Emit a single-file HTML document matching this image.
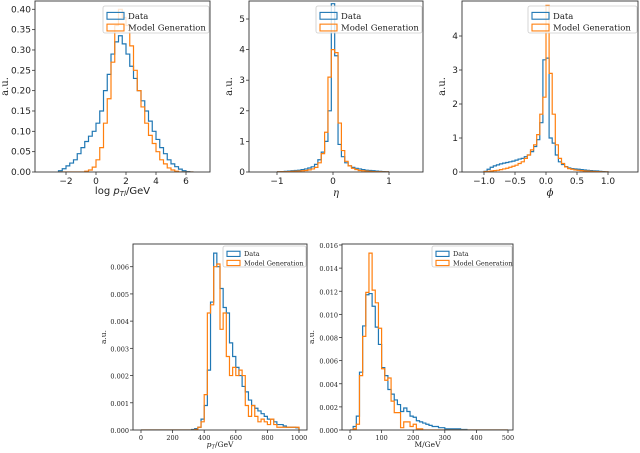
<!DOCTYPE html>
<html><head><meta charset="utf-8"><style>
html,body{margin:0;padding:0;background:#fff;}
svg{display:block;}
.tk{font-family:"DejaVu Sans",sans-serif;font-size:9px;fill:#222;}
.tk2{font-family:"DejaVu Serif","Liberation Serif",serif;font-size:6.5px;fill:#222;}
.lb{font-family:"DejaVu Serif","Liberation Serif",serif;font-size:10px;fill:#222;}
.lb2{font-family:"DejaVu Serif","Liberation Serif",serif;font-size:7.5px;fill:#222;}
</style></head><body>
<svg id="fig" width="640" height="453" viewBox="0 0 640 453" xmlns="http://www.w3.org/2000/svg"></svg>
<script>
// ---- data ----
const ptlStart=-2.5, ptlWidth=0.25;
const ptlData=[0.003,0.008,0.015,0.022,0.03,0.045,0.06,0.075,0.088,0.1,0.12,0.15,0.2,0.24,0.29,0.32,0.335,0.315,0.29,0.26,0.23,0.2,0.175,0.15,0.125,0.1,0.08,0.06,0.045,0.03,0.02,0.013,0.007,0.003,0.001,0];
const ptlModel=[0,0,0,0,0,0,0,0.002,0.005,0.012,0.03,0.06,0.12,0.18,0.27,0.36,0.4,0.38,0.36,0.31,0.25,0.2,0.16,0.12,0.09,0.07,0.05,0.03,0.02,0.01,0.005,0.002,0,0,0,0];
const etaStart=-0.99, etaWidth=0.06;
const etaData=[0.01,0.015,0.02,0.03,0.04,0.05,0.06,0.08,0.1,0.13,0.17,0.25,0.4,0.65,1.0,2.0,5.5,3.8,0.9,0.5,0.3,0.2,0.15,0.12,0.1,0.08,0.06,0.05,0.04,0.03,0.02,0.015,0.01];
const etaModel=[0.005,0.008,0.01,0.015,0.02,0.025,0.03,0.04,0.05,0.07,0.1,0.15,0.3,0.6,1.3,3.1,4.0,3.9,1.6,0.7,0.35,0.2,0.12,0.08,0.05,0.04,0.03,0.02,0.015,0.01,0.008,0.005,0.003];
const phiStart=-1.0, phiWidth=0.05;
const phiData=[0.02,0.08,0.14,0.18,0.21,0.24,0.26,0.28,0.3,0.32,0.35,0.38,0.4,0.45,0.5,0.6,0.75,0.95,1.45,3.3,3.35,1.0,0.85,0.5,0.3,0.22,0.16,0.12,0.1,0.09,0.08,0.07,0.06,0.05,0.04,0.035,0.03,0.02,0.01,0.005];
const phiModel=[0.01,0.02,0.03,0.04,0.05,0.07,0.09,0.11,0.14,0.17,0.2,0.25,0.3,0.4,0.5,0.65,0.8,1.1,1.7,2.2,4.9,2.9,1.7,0.8,0.4,0.25,0.15,0.1,0.08,0.06,0.05,0.04,0.03,0.025,0.02,0.015,0.01,0.008,0.005,0.003];
const ptStart=0, ptWidth=20;
const ptData=[0,0,0,0,0,0,0,0,0,0,0,0,0,0,0,0,0.00002,0.00005,0.0001,0.0004,0.0009,0.0022,0.0047,0.0065,0.0060,0.0052,0.0045,0.0043,0.0032,0.0027,0.0023,0.0020,0.0016,0.0014,0.0011,0.0009,0.0008,0.0007,0.0006,0.0005,0.0004,0.0004,0.0003,0.0002,0.0002,0.00015,0.0001,0.0001,0.0001,0.00008];
const ptModel=[0,0,0,0,0,0,0,0,0,0,0,0,0,0,0,0,0,0.00002,0.0001,0.0003,0.0013,0.0043,0.0046,0.0060,0.0061,0.0037,0.0043,0.0027,0.0020,0.0023,0.0020,0.0022,0.0020,0.0009,0.0005,0.0009,0.0005,0.0003,0.0004,0.0003,0.0002,0.0004,0.0002,0.0001,0.0001,0.0001,0.0001,0.0001,0.0001,0.0001];
const mStart=0, mWidth=10;
const mData=[0,0.0003,0.0012,0.005,0.009,0.0117,0.0118,0.0107,0.0089,0.0074,0.0054,0.0047,0.0035,0.0031,0.0026,0.0022,0.0016,0.0019,0.0016,0.0012,0.0011,0.0008,0.0007,0.0006,0.0005,0.0004,0.0003,0.0003,0.0002,0.0002,0.0001,0.0001,0.0001,0.0001,0.0001,0.00005,0.00005,0,0,0,0,0,0,0,0,0,0,0,0,0];
const mModel=[0,0.0001,0.0005,0.0047,0.0081,0.0119,0.0153,0.0121,0.011,0.0088,0.0053,0.0043,0.0045,0.0025,0.0015,0.0015,0.0002,0.0007,0.0007,0.0003,0.0005,0.0001,0.0001,0,0,0,0,0,0,0,0,0,0,0,0,0,0,0,0,0,0,0,0,0,0,0,0,0,0,0];
const ptlXTicks=[-2,0,2,4,6], ptlYTicks=[0,0.05,0.1,0.15,0.2,0.25,0.3,0.35,0.4];
const etaXTicks=[-1,0,1], etaYTicks=[0,1,2,3,4,5];
const phiXTicks=[-1,-0.5,0,0.5,1], phiYTicks=[0,1,2,3,4];
const ptXTicks=[0,200,400,600,800,1000], ptYTicks=[0,0.001,0.002,0.003,0.004,0.005,0.006];
const mXTicks=[0,100,200,300,400,500], mYTicks=[0,0.002,0.004,0.006,0.008,0.01,0.012,0.014,0.016];

const NS='http://www.w3.org/2000/svg';
const svg=document.getElementById('fig');
function mk(tag,attrs,parent){const e=document.createElementNS(NS,tag);for(const k in attrs)e.setAttribute(k,attrs[k]);(parent||svg).appendChild(e);return e;}

function panel(p){
  const g=mk('g',{});
  
  
  const sx=v=>p.x0px+(v-p.x0)*(p.x1px-p.x0px)/(p.x1-p.x0);
  const sy=v=>p.bot+(v)*(p.y1px-p.bot)/p.y1;
  const clipId='c'+p.name;
  const cp=mk('clipPath',{id:clipId},g);
  mk('rect',{x:p.L,y:p.T,width:p.R-p.L,height:p.bot-p.T},cp);
  function series(vals,start,w,color,nm){
    let d='M'+sx(start)+','+sy(0);
    vals.forEach((v,i)=>{d+=' L'+sx(start+i*w)+','+sy(v)+' L'+sx(start+(i+1)*w)+','+sy(v);});
    d+=' L'+sx(start+vals.length*w)+','+sy(0);
    const pth=mk('path',{d:d,fill:'none',stroke:color,'stroke-width':1.2,'clip-path':'url(#'+clipId+')'},g);
    
    
  }
  series(p.data,p.start,p.w,'#1f77b4','data-histogram');
  series(p.model,p.start,p.w,'#ff7f0e','model-histogram');
  const fr=mk('rect',{x:p.L,y:p.T,width:p.R-p.L,height:p.bot-p.T,fill:'none',stroke:'#333','stroke-width':0.9},g);
  
  
  const cls=p.small?'tk2':'tk';
  p.xt.forEach(v=>{
    const x=sx(v);
    mk('line',{x1:x,x2:x,y1:p.bot,y2:p.bot+3,stroke:'#333','stroke-width':0.8},g);
    const t=mk('text',{x:x,y:p.bot+(p.small?10:12),'text-anchor':'middle',class:cls},g);
    t.textContent=(v<0?'\u2212':'')+p.xf(Math.abs(v));
    
    
  });
  p.yt.forEach(v=>{
    const y=sy(v);
    mk('line',{x1:p.L-3,x2:p.L,y1:y,y2:y,stroke:'#333','stroke-width':0.8},g);
    const t=mk('text',{x:p.L-4,y:y+3,'text-anchor':'end',class:cls},g);
    t.textContent=p.yf(v);
    
    
  });
  const yl=mk('text',{x:p.ylx,y:(p.T+p.bot)/2,'text-anchor':'middle',class:p.small?'lb2':'lb',transform:'rotate(-90 '+p.ylx+' '+((p.T+p.bot)/2)+')'},g);
  yl.textContent='a.u.';
  
  
  const xl=mk('text',{x:(p.L+p.R)/2,y:p.xly,'text-anchor':'middle',class:p.small?'lb2':'lb'},g);
  xl.innerHTML=p.xlabel;
  
  
  // legend
  const lg=p.leg;
  const lgG=mk('g',{},g);
  
  
  mk('rect',{x:lg.x,y:lg.y,width:lg.w,height:lg.h,fill:'#fff','fill-opacity':0.8,stroke:'#ccc','stroke-width':0.8,rx:2},lgG);
  const fs=p.small?6.5:8.5, row=lg.h/2.3;
  [['Data','#1f77b4'],['Model Generation','#ff7f0e']].forEach((e,i)=>{
    const cy=lg.y+row*(0.75+i*1.0)+1;
    const r=mk('rect',{x:lg.x+4,y:cy-fs*0.4,width:fs*2,height:fs*0.8,fill:'none',stroke:e[1],'stroke-width':1.1},lgG);
    
    
    const t=mk('text',{x:lg.x+8+fs*2,y:cy+fs*0.35,'font-family':'"DejaVu Serif","Liberation Serif",serif','font-size':fs,fill:'#222'},lgG);
    t.textContent=e[0];
    
    
  });
}
const f0=v=>String(v), f1=v=>v.toFixed(1), f2=v=>v.toFixed(2), f3=v=>v.toFixed(3);
panel({name:'log-pt-panel',L:35,R:210,T:1,bot:172,x0:0,x0px:96,x1:2,x1px:126,y1:0.4,y1px:9.3,
  data:ptlData,model:ptlModel,start:ptlStart,w:ptlWidth,xt:ptlXTicks,yt:ptlYTicks,xf:f0,yf:f2,
  ylx:8,xly:194,xlabel:'<tspan font-family="DejaVu Sans">log </tspan><tspan font-style="italic" font-family="DejaVu Sans">p</tspan><tspan font-style="italic" font-size="7" dy="2" font-family="DejaVu Sans">Tl</tspan><tspan dy="-2" font-family="DejaVu Sans">/GeV</tspan>',
  leg:{x:103,y:6,w:106,h:27}});
panel({name:'eta-panel',L:249,R:423,T:1,bot:172,x0:0,x0px:333,x1:1,x1px:389,y1:5,y1px:19,
  data:etaData,model:etaModel,start:etaStart,w:etaWidth,xt:etaXTicks,yt:etaYTicks,xf:f0,yf:f0,
  ylx:232,xly:196,xlabel:'<tspan font-style="italic">η</tspan>',
  leg:{x:316,y:6,w:106,h:27}});
panel({name:'phi-panel',L:462,R:638,T:1,bot:172,x0:0,x0px:546,x1:1,x1px:608,y1:4,y1px:36,
  data:phiData,model:phiModel,start:phiStart,w:phiWidth,xt:phiXTicks,yt:phiYTicks,xf:f1,yf:f0,
  ylx:445,xly:196,xlabel:'<tspan font-style="italic">ϕ</tspan>',
  leg:{x:528,y:6,w:109,h:27}});
panel({name:'pt-panel',small:true,L:133,R:307,T:244,bot:430,x0:0,x0px:141,x1:1000,x1px:299,y1:0.006,y1px:266.7,
  data:ptData,model:ptModel,start:ptStart,w:ptWidth,xt:ptXTicks,yt:ptYTicks,xf:f0,yf:f3,
  ylx:106,xly:447,xlabel:'<tspan font-style="italic">p</tspan><tspan font-style="italic" font-size="5.5" dy="1.5">T</tspan><tspan dy="-1.5">/GeV</tspan>',
  leg:{x:223,y:246,w:83,h:21}});
panel({name:'mass-panel',small:true,L:342,R:513,T:244,bot:430,x0:0,x0px:350,x1:500,x1px:508,y1:0.016,y1px:245,
  data:mData,model:mModel,start:mStart,w:mWidth,xt:mXTicks,yt:mYTicks,xf:f0,yf:f3,
  ylx:314,xly:447,xlabel:'M/GeV',
  leg:{x:432,y:246,w:80,h:21}});
</script>
</body></html>
